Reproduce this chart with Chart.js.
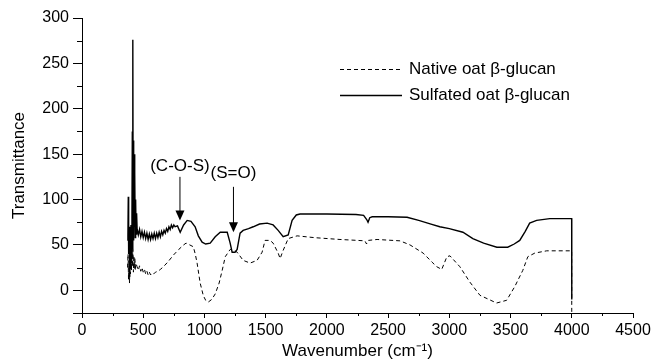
<!DOCTYPE html>
<html>
<head>
<meta charset="utf-8">
<script src="https://cdn.jsdelivr.net/npm/chart.js@4.4.1/dist/chart.umd.min.js"></script>
<style>
  html, body { margin: 0; padding: 0; background: #fff; }
  #wrap { width: 655px; height: 362px; position: relative; }
</style>
</head>
<body>
<div id="wrap"><canvas id="ftir"></canvas></div>
<script>
// Sulfated oat beta-glucan (solid)
const sulfatedX = [372, 375, 378, 381, 385, 388, 392, 396, 400, 404, 408, 411, 414, 416, 418, 421, 423, 426, 429, 432, 435, 438, 442, 446,
  450, 460, 470, 480, 490, 500, 510, 520, 530, 540, 550, 560, 570, 580, 590, 600, 610, 620, 630, 640, 650, 660, 670, 680, 690, 700,
  710, 720, 730, 740, 750, 760, 780, 802, 830, 859, 890, 924, 950, 981, 1010, 1047, 1088, 1129, 1186, 1210, 1226, 1250, 1267, 1291,
  1316, 1360, 1398, 1450, 1512, 1561, 1602, 1643, 1684, 1716, 1750, 1781, 2000, 2238, 2300, 2325, 2336, 2350, 2370, 2500, 2655,
  2750, 2850, 2922, 3000, 3111, 3192, 3280, 3388, 3477, 3530, 3575, 3620, 3656, 3713, 3820, 3900, 3999, 4000];
const sulfatedY = [55, 60, 103, 40, 70, 15, 65, 25, 72, 35, 80, 175, 45, 276, 60, 165, 55, 150, 70, 130, 58, 100, 62, 85,
  68, 61, 67, 59, 65, 58, 64, 57, 63, 56, 62, 56, 62, 57, 63, 57, 63, 58, 64, 59, 65, 61, 66, 63, 68, 65,
  70, 67, 72, 69, 72, 70, 71, 64, 72, 77, 76, 70, 60, 53, 51, 52, 59, 64, 64, 52, 42, 42, 45, 63,
  66, 68, 70, 73, 74, 72, 66, 59, 61, 77, 83, 84, 84, 83.5, 82.5, 78, 75, 80, 81, 81, 80.5,
  77, 73, 70, 68, 64, 57, 52, 47.5, 47.5, 51, 55, 65, 74, 77, 79, 79, 79, -10];

// Native oat beta-glucan (dashed)
const nativeX = [372, 376, 380, 384, 388, 392, 396, 400, 404, 408, 412, 416, 420, 424, 428, 432, 436, 440, 450, 460, 470, 480,
  490, 500, 510, 520, 530, 540, 550, 560, 570, 585, 600, 620, 640, 665, 700, 748, 790, 830, 850, 880, 909, 925, 940, 965, 991,
  1010, 1031, 1060, 1088, 1120, 1145, 1170, 1210, 1240, 1267, 1316, 1373, 1430, 1471, 1495, 1536, 1561, 1602, 1618, 1643, 1684,
  1757, 1900, 2107, 2250, 2310, 2324, 2330, 2340, 2410, 2597, 2679, 2786, 2859, 2897, 2938, 2980, 3005, 3086, 3168, 3250, 3386,
  3468, 3534, 3600, 3641, 3698, 3795, 3999, 4000];
const nativeY = [25, 40, 12, 33, 8, 35, 18, 42, 22, 50, 26, 45, 20, 38, 24, 35, 22, 30, 26, 22, 27, 21,
  25, 20, 23, 18, 21, 17, 20, 17, 19, 18, 20, 21, 23, 26, 31, 39, 45, 50, 52, 50, 48, 40, 30, 8, -6,
  -11, -13, -10, -4, 8, 22, 37, 45, 44, 42, 33, 30, 33, 42, 55, 55, 52, 41, 35, 44, 57,
  60, 58, 56, 55, 54.5, 51, 54, 55, 56, 54.5, 50, 41, 31, 26, 23, 37, 38, 26, 9, -5.5, -14,
  -11, 4, 22, 37, 41, 43.5, 43.5, -40];

const seriesNames = ['Native oat \u03B2-glucan', 'Sulfated oat \u03B2-glucan'];

// arrows: label, wavenumber, label y, arrow top y, arrow tip y
const notes = [
  { text: '(C-O-S)', x: 800, labelY: 137, top: 125, tip: 77 },
  { text: '(S=O)', x: 1237, labelY: 129, top: 114, tip: 64 }
];

const FONT = "'Liberation Sans', Arial, sans-serif";

function toPoints(xs, ys) {
  return xs.map((x, i) => ({ x: x, y: ys[i] }));
}

// minor ticks, legend box and arrow labels
const extras = {
  id: 'extras',
  afterDraw(chart) {
    const ctx = chart.ctx;
    const xs = chart.scales.x, ys = chart.scales.y;
    ctx.save();
    ctx.strokeStyle = '#000';
    ctx.fillStyle = '#000';
    ctx.lineWidth = 1;

    // minor ticks
    ctx.beginPath();
    for (let v = 250; v < 4500; v += 500) {
      const px = Math.round(xs.getPixelForValue(v)) + 0.5;
      ctx.moveTo(px, ys.bottom);
      ctx.lineTo(px, ys.bottom + 3);
    }
    for (let v = -25; v < 300; v += 50) {
      const py = Math.round(ys.getPixelForValue(v)) + 0.5;
      ctx.moveTo(xs.left, py);
      ctx.lineTo(xs.left - 5, py);
    }
    ctx.stroke();

    // arrows
    ctx.font = '17px ' + FONT;
    ctx.textAlign = 'center';
    ctx.textBaseline = 'middle';
    notes.forEach(n => {
      const px = xs.getPixelForValue(n.x);
      const top = ys.getPixelForValue(n.top);
      const tip = ys.getPixelForValue(n.tip);
      ctx.fillText(n.text, px, ys.getPixelForValue(n.labelY));
      ctx.beginPath();
      ctx.moveTo(px, top);
      ctx.lineTo(px, tip - 7);
      ctx.stroke();
      ctx.beginPath();
      ctx.moveTo(px - 4.5, tip - 10);
      ctx.lineTo(px + 4.5, tip - 10);
      ctx.lineTo(px, tip);
      ctx.closePath();
      ctx.fill();
    });

    // legend
    ctx.textAlign = 'left';
    ctx.font = '17px ' + FONT;
    const rows = [{ y: 69, dash: [4, 3], w: 1 }, { y: 95, dash: [], w: 1.6 }];
    rows.forEach((r, i) => {
      ctx.beginPath();
      ctx.setLineDash(r.dash);
      ctx.lineWidth = r.w;
      ctx.moveTo(340, r.y + 0.5);
      ctx.lineTo(402, r.y + 0.5);
      ctx.stroke();
      ctx.setLineDash([]);
      ctx.fillText(seriesNames[i], 409, r.y);
    });
    ctx.restore();
  }
};

new Chart(document.getElementById('ftir'), {
  type: 'line',
  data: {
    datasets: [
      {
        label: seriesNames[0],
        data: toPoints(nativeX, nativeY),
        borderColor: '#000',
        borderWidth: 1,
        borderDash: [4, 3],
        pointRadius: 0,
        tension: 0
      },
      {
        label: seriesNames[1],
        data: toPoints(sulfatedX, sulfatedY),
        borderColor: '#000',
        borderWidth: 1.4,
        pointRadius: 0,
        tension: 0
      }
    ]
  },
  options: {
    responsive: true,
    maintainAspectRatio: false,
    animation: false,
    layout: { padding: { left: 9, top: 18, right: 22, bottom: 0 } },
    plugins: { legend: { display: false }, tooltip: { enabled: false } },
    scales: {
      x: {
        type: 'linear',
        min: 0,
        max: 4500,
        ticks: {
          stepSize: 500, color: '#000', font: { size: 16, family: FONT }, padding: 3, maxRotation: 0,
          callback: v => String(v)
        },
        grid: { drawOnChartArea: false, tickLength: 5, color: '#000' },
        border: { color: '#000', width: 1 },
        title: { display: true, text: 'Wavenumber (cm\u207B\u00B9)', color: '#000', font: { size: 17, family: FONT }, padding: { top: 0, bottom: 0 } },
        afterFit(scale) { scale.height = 49; }
      },
      y: {
        min: -25,
        max: 300,
        ticks: {
          stepSize: 50, color: '#000', font: { size: 16, family: FONT }, padding: 4,
          callback: v => (v % 50 === 0 ? String(v) : '')
        },
        grid: { drawOnChartArea: false, tickLength: 9, color: '#000' },
        border: { color: '#000', width: 1 },
        title: { display: true, text: 'Transmittance', color: '#000', font: { size: 17, family: FONT }, padding: 0 },
        afterFit(scale) { scale.width = 73; }
      }
    }
  },
  plugins: [extras]
});
</script>
</body>
</html>
